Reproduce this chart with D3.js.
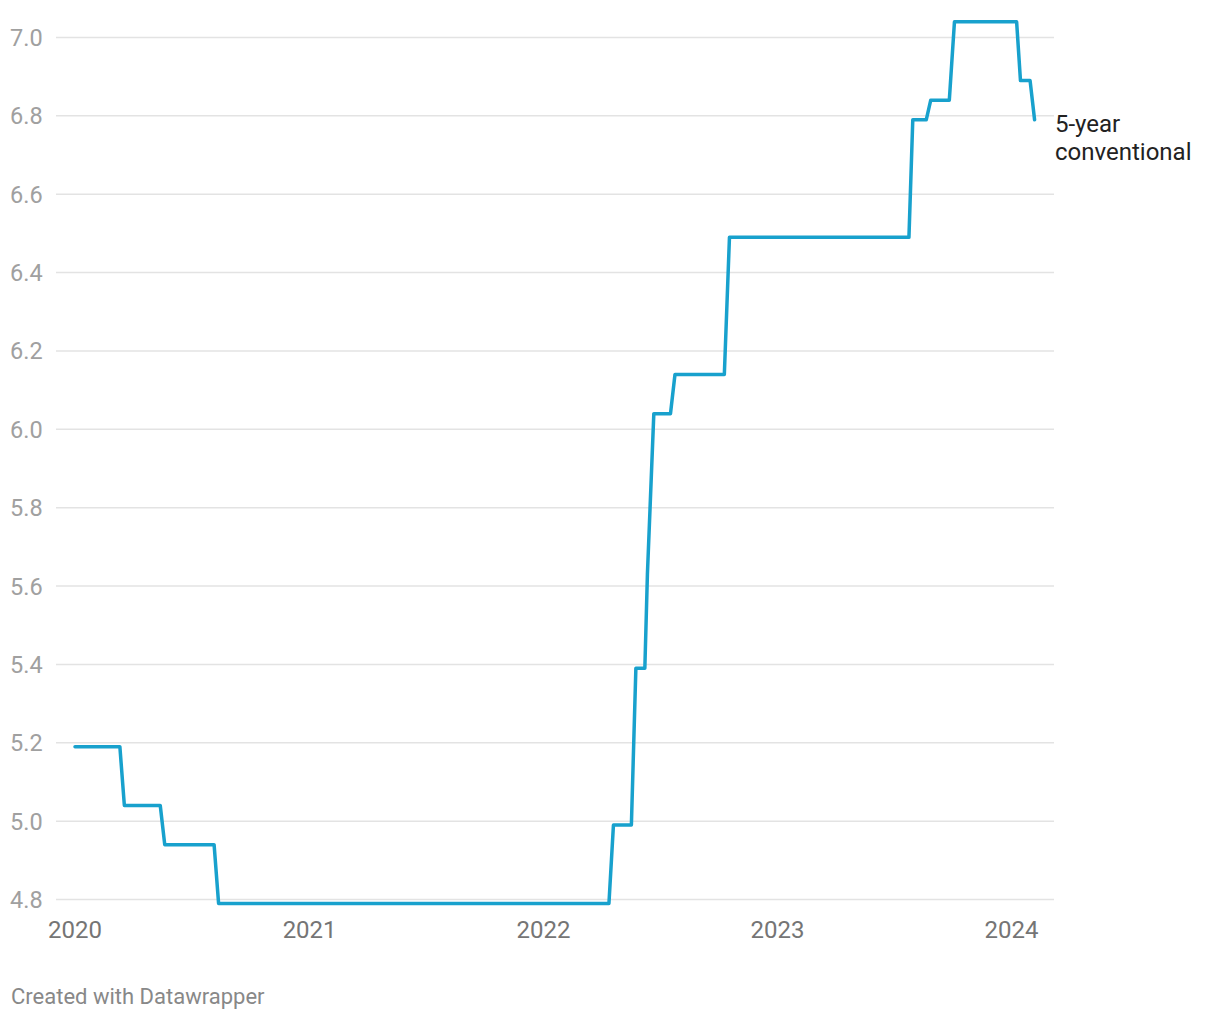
<!DOCTYPE html>
<html>
<head>
<meta charset="utf-8">
<script src="https://cdn.jsdelivr.net/npm/d3@7"></script>
<style>
  html, body { margin: 0; padding: 0; background: #ffffff; }
  svg { display: block; font-family: Roboto, "Noto Sans", sans-serif; }
</style>
</head>
<body>
<svg id="chart" width="1220" height="1020"></svg>
<script>
// ---- Data (weekly posted 5-year conventional rate, change points) ----
const dates = [
  "2020-01-01", "2020-03-11", "2020-03-18", "2020-05-13", "2020-05-20",
  "2020-08-05", "2020-08-12", "2022-04-13", "2022-04-20", "2022-05-18",
  "2022-05-25", "2022-06-08", "2022-06-12", "2022-06-22", "2022-07-18",
  "2022-07-25", "2022-10-10", "2022-10-18", "2023-07-25", "2023-07-31",
  "2023-08-21", "2023-08-28", "2023-09-26", "2023-10-04", "2024-01-09",
  "2024-01-15", "2024-01-30", "2024-02-06"
];
const rates = [
  5.19, 5.19, 5.04, 5.04, 4.94,
  4.94, 4.79, 4.79, 4.99, 4.99,
  5.39, 5.39, 5.63, 6.04, 6.04,
  6.14, 6.14, 6.49, 6.49, 6.79,
  6.79, 6.84, 6.84, 7.04, 7.04,
  6.89, 6.89, 6.79
];
const yTicks = [4.8, 5.0, 5.2, 5.4, 5.6, 5.8, 6.0, 6.2, 6.4, 6.6, 6.8, 7.0];
const xTickYears = [2020, 2021, 2022, 2023, 2024];
const seriesLabel = ["5-year", "conventional"];
const credit = "Created with Datawrapper";

// ---- Layout ----
const parse = d3.utcParse("%Y-%m-%d");
const data = dates.map((d, i) => ({ date: parse(d), value: rates[i] }));

const svg = d3.select("#chart");
const gridLeft = 56, gridRight = 1054;

const x = d3.scaleUtc()
  .domain([Date.UTC(2020, 0, 1), Date.UTC(2024, 0, 1)])
  .range([75, 1011.5]);
const y = d3.scaleLinear()
  .domain([4.8, 7.0])
  .range([899.5, 37.5]);

// gridlines + y labels
const yAxis = svg.append("g");
yAxis.selectAll("line")
  .data(yTicks)
  .join("line")
  .attr("x1", gridLeft).attr("x2", gridRight)
  .attr("y1", d => y(d)).attr("y2", d => y(d))
  .attr("stroke", "#e3e3e3")
  .attr("stroke-width", 1.5);
yAxis.selectAll("text")
  .data(yTicks)
  .join("text")
  .attr("x", 10)
  .attr("y", d => y(d) + 8.5)
  .attr("font-size", 23.5)
  .attr("fill", "#a0a0a0")
  .text(d => d3.format(".1f")(d));

// x labels
const xAxis = svg.append("g");
xAxis.selectAll("text")
  .data(xTickYears)
  .join("text")
  .attr("x", d => x(Date.UTC(d, 0, 1)))
  .attr("y", 938)
  .attr("text-anchor", "middle")
  .attr("font-size", 24)
  .attr("fill", "#757575")
  .text(d => d);

// line
const line = d3.line()
  .x(d => x(d.date))
  .y(d => y(d.value));
svg.append("path")
  .datum(data)
  .attr("d", line)
  .attr("fill", "none")
  .attr("stroke", "#18a1cd")
  .attr("stroke-width", 3.5)
  .attr("stroke-linejoin", "round")
  .attr("stroke-linecap", "round");

// series label
const lbl = svg.append("text")
  .attr("x", 1055)
  .attr("y", 132)
  .attr("font-size", 24)
  .attr("fill", "#222222");
seriesLabel.forEach((t, i) => {
  lbl.append("tspan").attr("x", 1055).attr("dy", i === 0 ? 0 : 28).text(t);
});

// credit
svg.append("text")
  .attr("x", 11)
  .attr("y", 1004)
  .attr("font-size", 22)
  .attr("fill", "#888888")
  .text(credit);
</script>
</body>
</html>
